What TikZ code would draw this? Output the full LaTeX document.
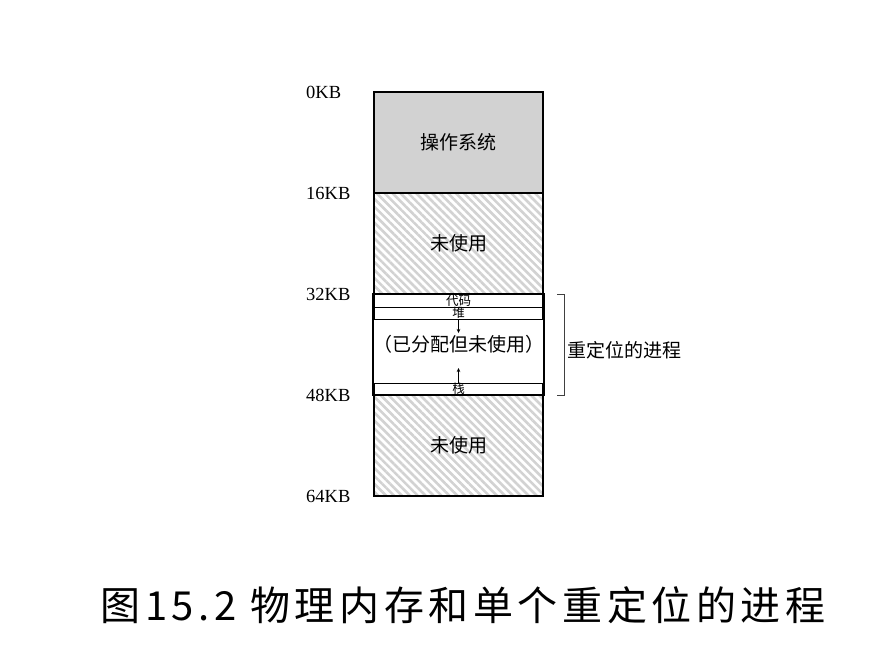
\documentclass[tikz,border=0pt]{standalone}
\usepackage{fontspec}
\setmainfont{Liberation Serif}
\newfontfamily\cjk{Noto Sans CJK SC}
\usetikzlibrary{arrows.meta, patterns.meta}

\begin{document}
\begin{tikzpicture}[x=1pt,y=-1pt,
    every node/.style={inner sep=0pt},
    region/.style={draw,line width=1.3pt,minimum width=169pt,minimum height=101pt,font=\cjk\fontsize{19}{22}\selectfont},
    unused/.style={region,pattern={Lines[angle=-45,distance=5.6pt,line width=2.6pt]},pattern color=gray!35},
    band/.style={draw,line width=0.7pt,minimum width=168pt,font=\cjk\fontsize{12.5}{12.5}\selectfont},
    addr/.style={anchor=west,font=\fontsize{18.5}{20}\selectfont}]
        \useasboundingbox (0,0) rectangle (888,656);

        % memory regions
        \node[region,fill=gray!35] (os) at (458.5, 142.5) {操作系统};
        \node[unused] (free1) at (458.5, 243.5) {未使用};
        \node[region] (proc) at (458.5, 344.5) {（已分配但未使用）};
        \node[unused] (free2) at (458.5, 445.5) {未使用};

        \node[band,minimum height=13pt] (code) at (458.5, 300.5) {代码};
        \node[band,minimum height=12pt] (heap) at (458.5, 313) {堆};
        \node[band,minimum height=12pt] (stack) at (458.5, 389) {栈};
        \draw[line width=1.3pt] (proc.north west) rectangle (proc.south east);

        \coordinate (heapend) at (458.5, 333);
        \coordinate (stackend) at (458.5, 368);
        \draw[-{Stealth[length=4pt,width=3.5pt]},line width=0.5pt] (heap.south) -- (heapend);
        \draw[-{Stealth[length=4pt,width=3.5pt]},line width=0.5pt] (stack.north) -- (stackend);

        % addresses
        \node[addr] (a0) at (306, 92) {0KB};
        \node[addr] (a16) at (306, 193) {16KB};
        \node[addr] (a32) at (306, 294) {32KB};
        \node[addr] (a48) at (306, 395) {48KB};
        \node[addr] (a64) at (306, 496) {64KB};

        % bracket
        \coordinate (brtop) at (557, 294);
        \coordinate (brbot) at (557, 395);
        \draw[line width=0.8pt,black!75] (brtop) -- ++(7,0) |- (brbot);
        \node[anchor=west,font=\cjk\fontsize{19}{22}\selectfont] (reloc) at (567, 350) {重定位的进程};

        \node[font=\cjk\fontsize{40}{44}\selectfont\addfontfeature{LetterSpace=11.5}] (caption) at (463, 605) {图15.2 物理内存和单个重定位的进程};
\end{tikzpicture}
\end{document}
